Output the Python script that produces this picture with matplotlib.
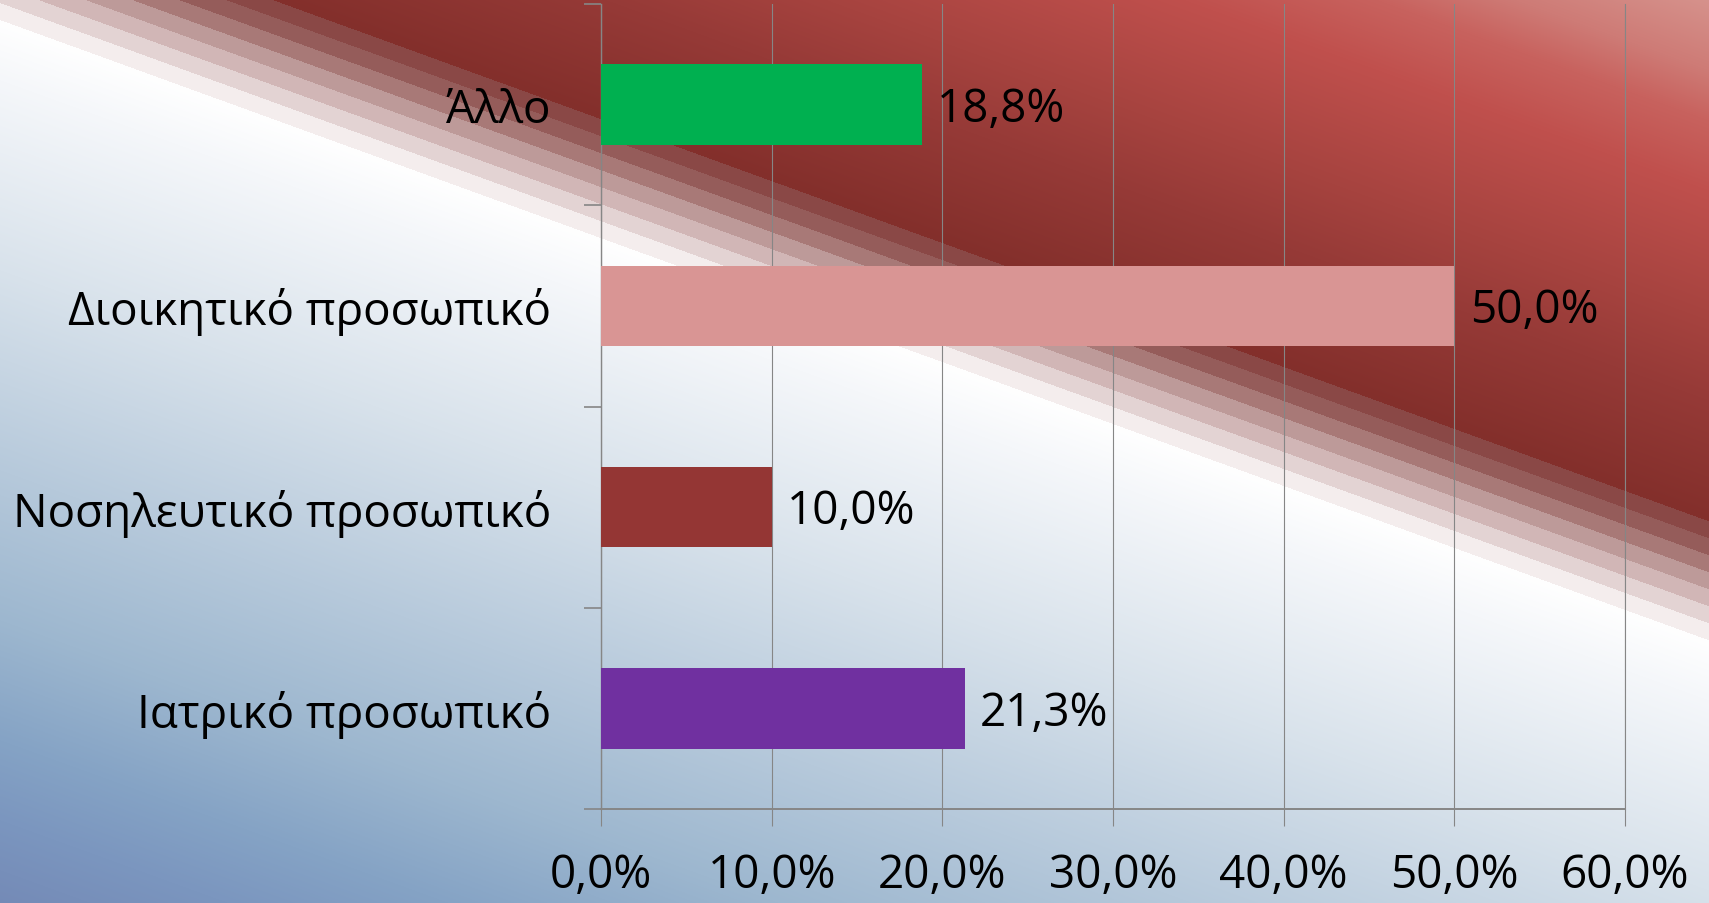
import numpy as np
import matplotlib
matplotlib.use("Agg")
import matplotlib.pyplot as plt
from matplotlib.colors import to_rgb

plt.rcParams['font.family'] = ['Open Sans', 'DejaVu Sans']

# --- data -------------------------------------------------------------------
categories = ["Ιατρικό προσωπικό", "Νοσηλευτικό προσωπικό",
              "Διοικητικό προσωπικό", "Άλλο"]
values = [21.3, 10.0, 50.0, 18.8]
bar_colors = ["#7030A0", "#943634", "#D99594", "#00B050"]
xticks = [0, 10, 20, 30, 40, 50, 60]

W, H, DPI = 1709, 904, 100
FS = 33
GRID = "#868686"

# --- slide background: blue -> white -> striped dark red -> red -------------
X, Y = np.meshgrid(np.arange(W) + 0.5, np.arange(H) + 0.5)
off = (21 + 0.363 * X) - Y          # >0 above the white boundary line

band_cols = ["#f4eded", "#e3d3d3", "#d1b6b6", "#bd9a99",
             "#a87977", "#955c5a", "#8a4846"]
BAND = 17.0
red_stops = [(7 * BAND, "#832f2b"), (240, "#963a37"), (320, "#a6433f"),
             (450, "#c0504d"), (520, "#c8625e"), (570, "#ce7b76"),
             (650, "#d7958f"), (800, "#dca39e")]
blue_stops = [(-1000, "#6e80b0"), (-900, "#7388b5"), (-800, "#7b96bf"),
              (-720, "#85a3c5"), (-600, "#9db7cf"), (-450, "#b6c9db"),
              (-250, "#d8e2eb"), (-60, "#f5f7fa"), (0, "#ffffff")]

def ramp(d, stops):
    xs = [s[0] for s in stops]
    cs = np.array([to_rgb(s[1]) for s in stops])
    return np.stack([np.interp(d, xs, cs[:, i]) for i in range(3)], axis=-1)

img = np.ones((H, W, 3))
neg = off < 0
img[neg] = ramp(off[neg], blue_stops)
top = off >= 7 * BAND
img[top] = ramp(off[top], red_stops)
for k, c in enumerate(band_cols):
    m = (off >= k * BAND) & (off < (k + 1) * BAND)
    img[m] = to_rgb(c)

fig = plt.figure(figsize=(W / DPI, H / DPI), dpi=DPI)
bg = fig.add_axes([0, 0, 1, 1], zorder=-1)
bg.imshow(img, aspect="auto", interpolation="nearest")
bg.set_axis_off()

# --- chart ------------------------------------------------------------------
ax = fig.add_axes([601 / W, 1 - 810 / H, 1024 / W, 805 / H])
ax.patch.set_alpha(0)
y = np.arange(len(categories))
ax.barh(y, values, height=0.4, color=bar_colors, zorder=3)
for yi, v in zip(y, values):
    ax.annotate(f"{v:.1f}".replace(".", ",") + "%", (v, yi),
                xytext=(11, -3), textcoords="offset points",
                va="center", ha="left", fontsize=FS, zorder=4)

ax.set_xlim(0, 60)
ax.set_ylim(-0.5, len(categories) - 0.5)
ax.set_xticks(xticks)
ax.set_xticklabels([f"{t:.1f}".replace(".", ",") + "%" for t in xticks],
                   fontsize=FS)
ax.set_yticks(y)
ax.set_yticklabels(categories, fontsize=FS)
ax.set_yticks(np.arange(-0.5, len(categories)), minor=True)
ax.tick_params(axis="y", which="major", length=0, pad=36)
ax.tick_params(axis="y", which="minor", length=12, width=1.2, color=GRID)
ax.tick_params(axis="x", length=12, width=0.8, color=GRID, pad=19)
ax.grid(axis="x", color=GRID, lw=0.8, zorder=1)
ax.set_axisbelow(True)
ax.spines["top"].set_visible(False)
ax.spines["right"].set_color(GRID)
ax.spines["right"].set_linewidth(0.8)
ax.spines["left"].set_color(GRID)
ax.spines["left"].set_linewidth(1.0)
ax.spines["bottom"].set_color(GRID)
ax.spines["bottom"].set_linewidth(1.4)

fig.savefig("out.png", dpi=DPI)
